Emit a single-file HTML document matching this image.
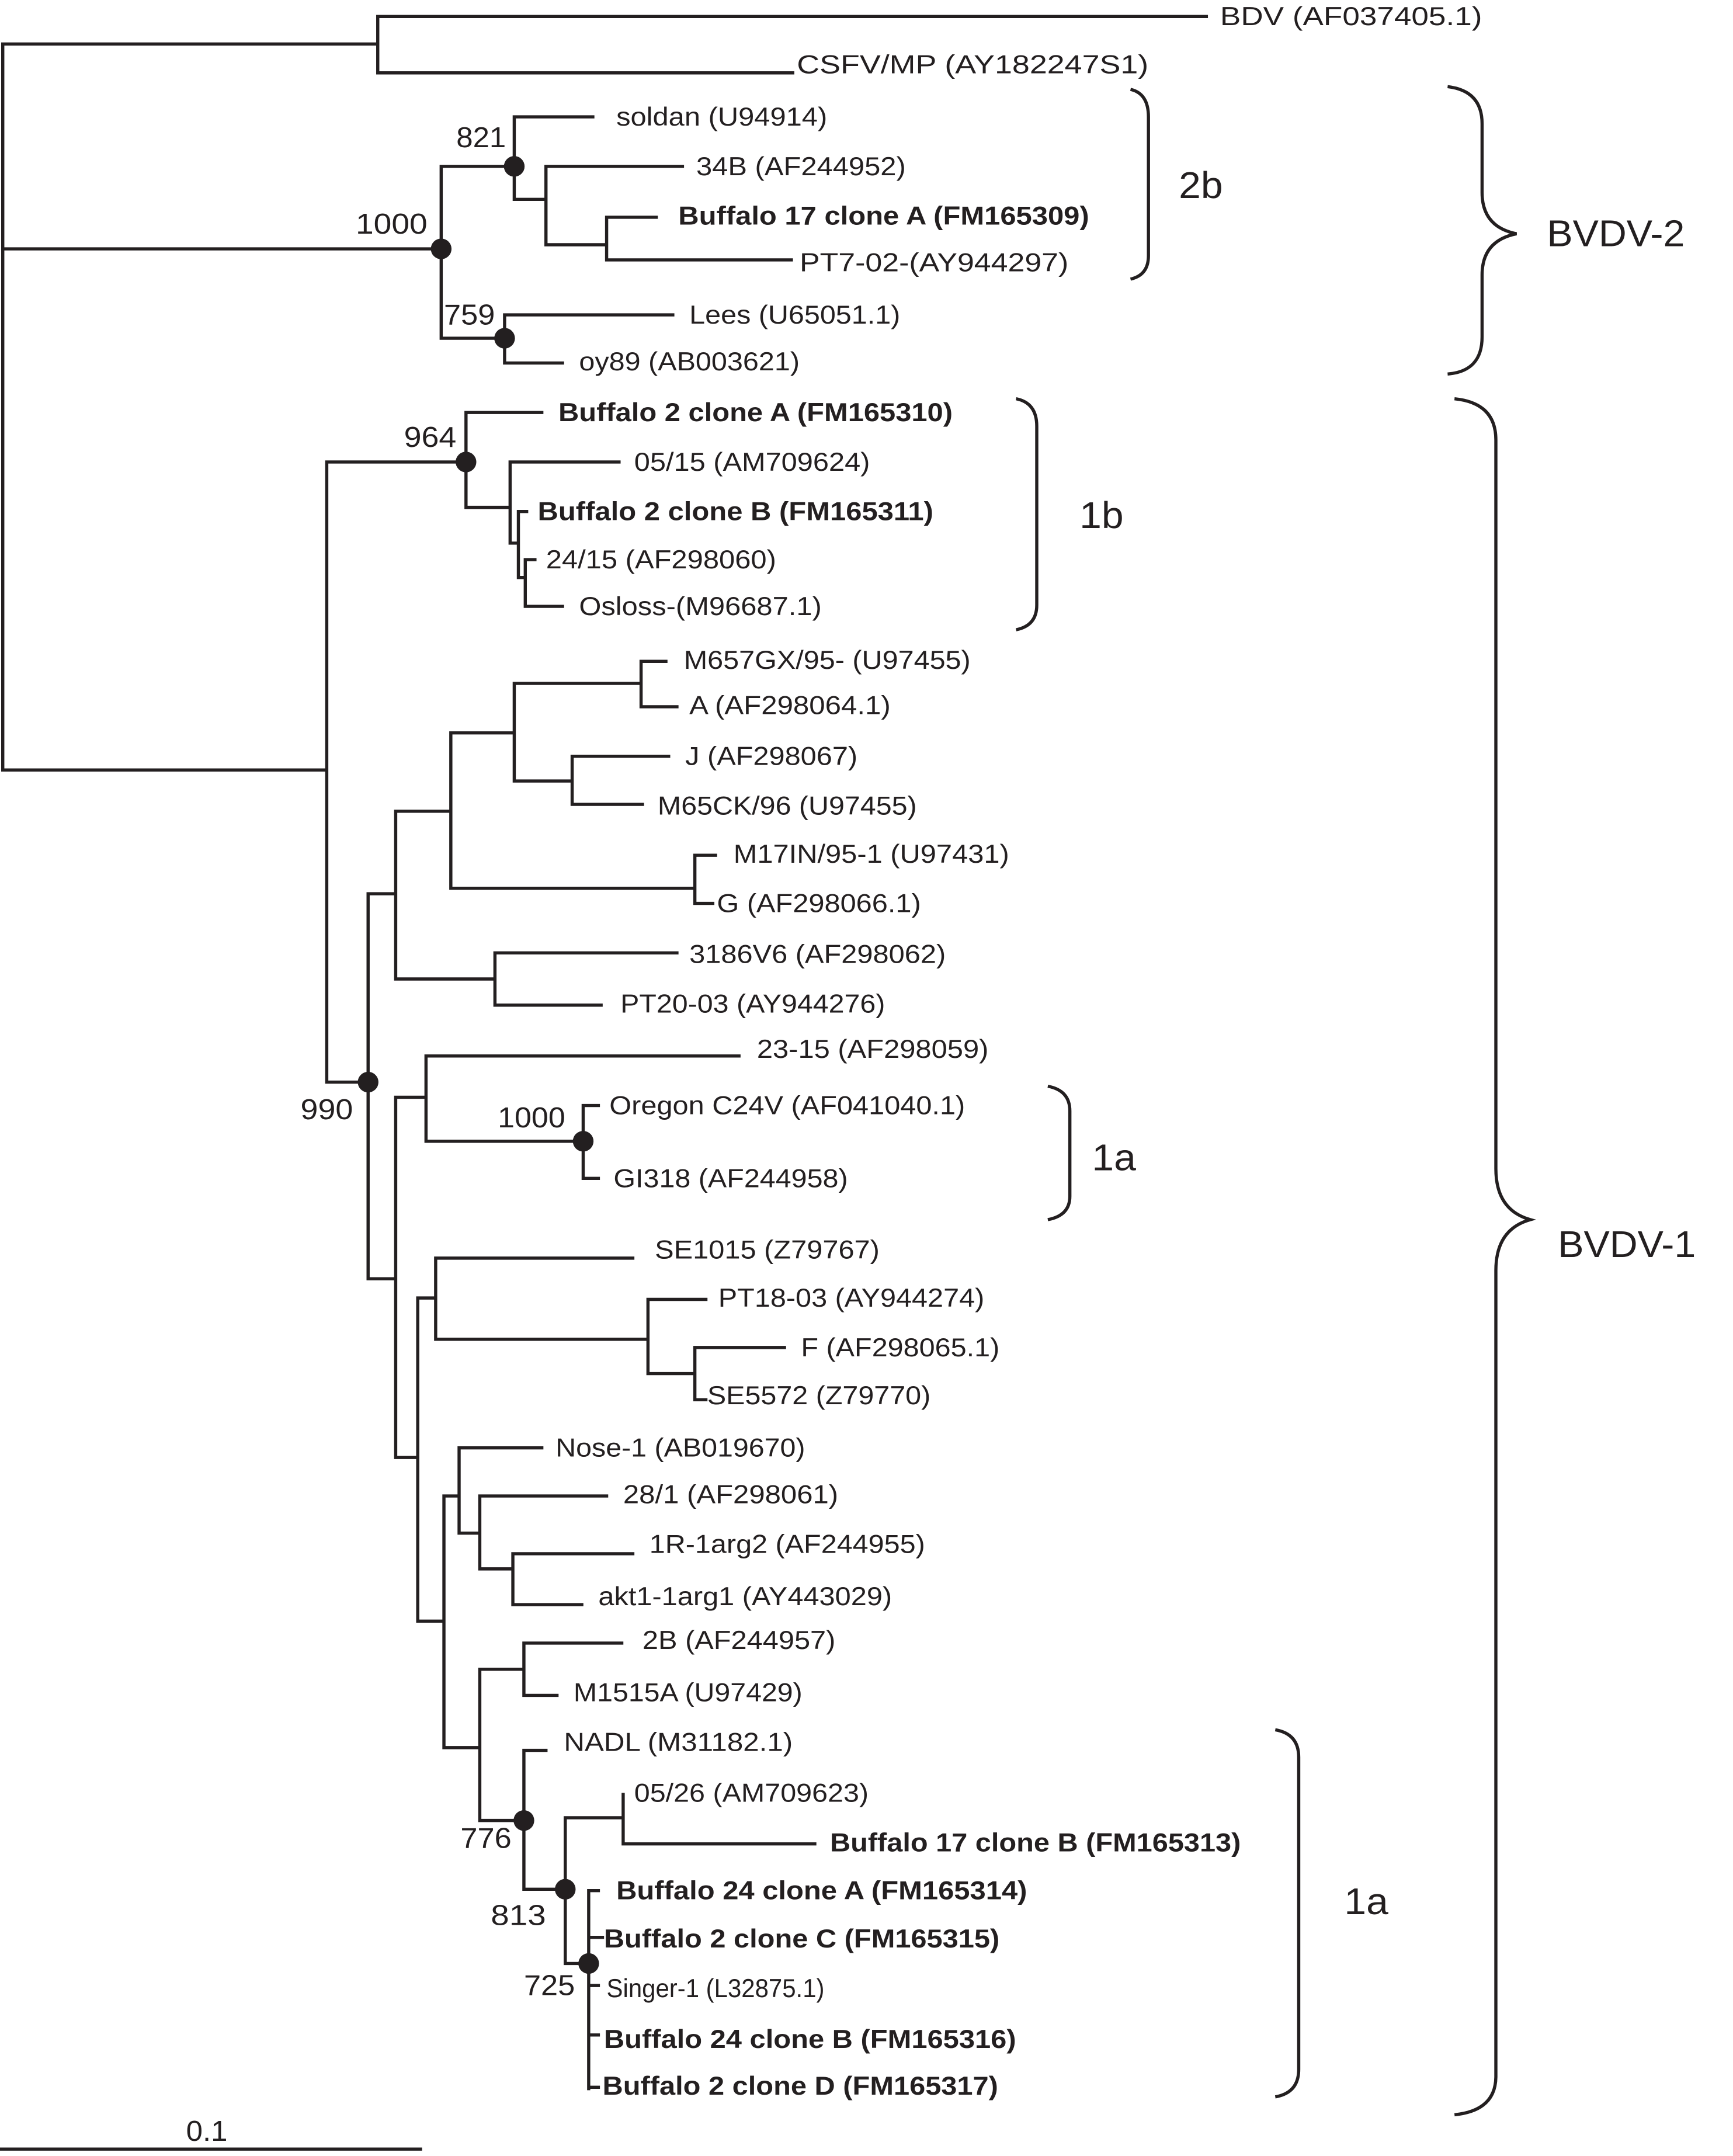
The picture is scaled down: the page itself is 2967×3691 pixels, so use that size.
<!DOCTYPE html>
<html><head><meta charset="utf-8"><style>
html,body{margin:0;padding:0;background:#fff;}
svg{display:block;}
text{font-family:"Liberation Sans",Arial,sans-serif;fill:#231f20;dominant-baseline:central;}
.l{font-size:19px;}
.b{font-size:19px;font-weight:bold;}
.n{font-size:21px;}
.g{font-size:27px;}
</style></head><body>
<svg width="2967" height="3691" viewBox="0 0 1257 1568" preserveAspectRatio="none" xmlns="http://www.w3.org/2000/svg">
<g fill="none" stroke="#231f20" stroke-width="2.3" stroke-linecap="square">
<path d="M2 32 V560 M2 32 H274 M274 12 V53 M274 12 H875 M274 53 H575
M2 181 H320 M320 121 V246 M320 121 H373 M373 85 V145 M373 85 H430 M373 145 H396 M396 121 V178 M396 121 H495 M396 178 H440 M440 158 V189 M440 158 H476 M440 189 H574 M320 246 H366 M366 229 V264 M366 229 H488 M366 264 H408
M2 560 H237 M237 336 V787 M237 336 H338 M338 300 V369 M338 300 H393 M338 369 H370 M370 336 V395 M370 336 H449 M370 395 H376 M376 372 V420 M376 372 H382 M376 420 H381 M381 407 V441 M381 407 H388 M381 441 H408
M237 787 H267 M267 650 V930 M267 650 H287 M287 590 V712 M287 590 H327 M327 533 V646 M327 533 H373 M373 497 V568 M373 497 H465 M465 481 V514 M465 481 H483 M465 514 H491 M373 568 H415 M415 550 V585 M415 550 H485 M415 585 H466 M327 646 H504 M504 622 V657 M504 622 H519 M504 657 H517 M287 712 H359 M359 693 V731 M359 693 H491 M359 731 H436
M267 930 H287 M287 798 V1060 M287 798 H309 M309 768 V830 M309 768 H536 M309 830 H423 M423 804 V857 M423 804 H434 M423 857 H434
M287 1060 H303 M303 944 V1179 M303 944 H316 M316 915 V974 M316 915 H459 M316 974 H470 M470 945 V999 M470 945 H512 M470 999 H504 M504 980 V1018 M504 980 H569 M504 1018 H512
M303 1179 H322 M322 1088 V1271 M322 1088 H333 M333 1053 V1115 M333 1053 H393 M333 1115 H348 M348 1088 V1141 M348 1088 H440 M348 1141 H372 M372 1130 V1167 M372 1130 H459 M372 1167 H422
M322 1271 H348 M348 1214 V1324 M348 1214 H380 M380 1195 V1233 M380 1195 H451 M380 1233 H404
M348 1324 H380 M380 1273 V1374 M380 1273 H396 M380 1374 H410 M410 1322 V1428 M410 1322 H452 M452 1305 V1341 M452 1341 H591 M410 1428 H427 M427 1375 V1519 M427 1375 H434 M427 1409 H437 M427 1444 H434 M427 1480 H434 M427 1518 H434
M0 1563 H305"/>
<path stroke-linecap="butt" d="M820 65 Q833 68 833 85 V186 Q833 200 820 203
M737 290 Q752 293 752 310 V440 Q752 455 737 458
M760 790 Q776 793 776 808 V870 Q776 884 760 887
M925 1258 Q942 1261 942 1278 V1505 Q942 1522 925 1525
M1050 63 Q1075 66 1075 90 V140 Q1075 165 1100 170 Q1075 175 1075 200 V245 Q1075 270 1050 272
M1055 290 Q1085 293 1085 320 V850 Q1085 880 1110 887 Q1085 894 1085 924 V1510 Q1085 1535 1055 1538"/>
</g>
<g fill="#231f20">
<circle cx="320" cy="181" r="7.5"/><circle cx="373" cy="121" r="7.5"/><circle cx="366" cy="246" r="7.5"/>
<circle cx="338" cy="336" r="7.5"/><circle cx="267" cy="787" r="7.5"/><circle cx="423" cy="830" r="7.5"/>
<circle cx="380" cy="1324" r="7.5"/><circle cx="410" cy="1374" r="7.5"/><circle cx="427" cy="1428" r="7.5"/>
</g>
<g>
<text class="l" x="885" y="12" textLength="190" lengthAdjust="spacingAndGlyphs">BDV (AF037405.1)</text>
<text class="l" x="578" y="47" textLength="255" lengthAdjust="spacingAndGlyphs">CSFV/MP (AY182247S1)</text>
<text class="l" x="447" y="85" textLength="153" lengthAdjust="spacingAndGlyphs">soldan (U94914)</text>
<text class="l" x="505" y="121" textLength="152" lengthAdjust="spacingAndGlyphs">34B (AF244952)</text>
<text class="b" x="492" y="157" textLength="298" lengthAdjust="spacingAndGlyphs">Buffalo 17 clone A (FM165309)</text>
<text class="l" x="580" y="191" textLength="195" lengthAdjust="spacingAndGlyphs">PT7-02-(AY944297)</text>
<text class="l" x="500" y="229" textLength="153" lengthAdjust="spacingAndGlyphs">Lees (U65051.1)</text>
<text class="l" x="420" y="263" textLength="160" lengthAdjust="spacingAndGlyphs">oy89 (AB003621)</text>
<text class="b" x="405" y="300" textLength="286" lengthAdjust="spacingAndGlyphs">Buffalo 2 clone A (FM165310)</text>
<text class="l" x="460" y="336" textLength="171" lengthAdjust="spacingAndGlyphs">05/15 (AM709624)</text>
<text class="b" x="390" y="372" textLength="287" lengthAdjust="spacingAndGlyphs">Buffalo 2 clone B (FM165311)</text>
<text class="l" x="396" y="407" textLength="167" lengthAdjust="spacingAndGlyphs">24/15 (AF298060)</text>
<text class="l" x="420" y="441" textLength="176" lengthAdjust="spacingAndGlyphs">Osloss-(M96687.1)</text>
<text class="l" x="496" y="480" textLength="208" lengthAdjust="spacingAndGlyphs">M657GX/95- (U97455)</text>
<text class="l" x="500" y="513" textLength="146" lengthAdjust="spacingAndGlyphs">A (AF298064.1)</text>
<text class="l" x="497" y="550" textLength="125" lengthAdjust="spacingAndGlyphs">J (AF298067)</text>
<text class="l" x="477" y="586" textLength="188" lengthAdjust="spacingAndGlyphs">M65CK/96 (U97455)</text>
<text class="l" x="532" y="621" textLength="200" lengthAdjust="spacingAndGlyphs">M17IN/95-1 (U97431)</text>
<text class="l" x="520" y="657" textLength="148" lengthAdjust="spacingAndGlyphs">G (AF298066.1)</text>
<text class="l" x="500" y="694" textLength="186" lengthAdjust="spacingAndGlyphs">3186V6 (AF298062)</text>
<text class="l" x="450" y="730" textLength="192" lengthAdjust="spacingAndGlyphs">PT20-03 (AY944276)</text>
<text class="l" x="549" y="763" textLength="168" lengthAdjust="spacingAndGlyphs">23-15 (AF298059)</text>
<text class="l" x="442" y="804" textLength="258" lengthAdjust="spacingAndGlyphs">Oregon C24V (AF041040.1)</text>
<text class="l" x="445" y="857" textLength="170" lengthAdjust="spacingAndGlyphs">GI318 (AF244958)</text>
<text class="l" x="475" y="909" textLength="163" lengthAdjust="spacingAndGlyphs">SE1015 (Z79767)</text>
<text class="l" x="521" y="944" textLength="193" lengthAdjust="spacingAndGlyphs">PT18-03 (AY944274)</text>
<text class="l" x="581" y="980" textLength="144" lengthAdjust="spacingAndGlyphs">F (AF298065.1)</text>
<text class="l" x="513" y="1015" textLength="162" lengthAdjust="spacingAndGlyphs">SE5572 (Z79770)</text>
<text class="l" x="403" y="1053" textLength="181" lengthAdjust="spacingAndGlyphs">Nose-1 (AB019670)</text>
<text class="l" x="452" y="1087" textLength="156" lengthAdjust="spacingAndGlyphs">28/1 (AF298061)</text>
<text class="l" x="471" y="1123" textLength="200" lengthAdjust="spacingAndGlyphs">1R-1arg2 (AF244955)</text>
<text class="l" x="434" y="1161" textLength="213" lengthAdjust="spacingAndGlyphs">akt1-1arg1 (AY443029)</text>
<text class="l" x="466" y="1193" textLength="140" lengthAdjust="spacingAndGlyphs">2B (AF244957)</text>
<text class="l" x="416" y="1231" textLength="166" lengthAdjust="spacingAndGlyphs">M1515A (U97429)</text>
<text class="l" x="409" y="1267" textLength="166" lengthAdjust="spacingAndGlyphs">NADL (M31182.1)</text>
<text class="l" x="460" y="1304" textLength="170" lengthAdjust="spacingAndGlyphs">05/26 (AM709623)</text>
<text class="b" x="602" y="1340" textLength="298" lengthAdjust="spacingAndGlyphs">Buffalo 17 clone B (FM165313)</text>
<text class="b" x="447" y="1375" textLength="298" lengthAdjust="spacingAndGlyphs">Buffalo 24 clone A (FM165314)</text>
<text class="b" x="438" y="1410" textLength="287" lengthAdjust="spacingAndGlyphs">Buffalo 2 clone C (FM165315)</text>
<text class="l" x="440" y="1446" textLength="158" lengthAdjust="spacingAndGlyphs">Singer-1 (L32875.1)</text>
<text class="b" x="438" y="1483" textLength="299" lengthAdjust="spacingAndGlyphs">Buffalo 24 clone B (FM165316)</text>
<text class="b" x="437" y="1517" textLength="287" lengthAdjust="spacingAndGlyphs">Buffalo 2 clone D (FM165317)</text>

<text class="n" x="258" y="163" textLength="52" lengthAdjust="spacingAndGlyphs">1000</text>
<text class="n" x="331" y="100" textLength="36" lengthAdjust="spacingAndGlyphs">821</text>
<text class="n" x="322" y="229" textLength="37" lengthAdjust="spacingAndGlyphs">759</text>
<text class="n" x="293" y="318" textLength="38" lengthAdjust="spacingAndGlyphs">964</text>
<text class="n" x="218" y="807" textLength="38" lengthAdjust="spacingAndGlyphs">990</text>
<text class="n" x="361" y="813" textLength="49" lengthAdjust="spacingAndGlyphs">1000</text>
<text class="n" x="334" y="1337" textLength="37" lengthAdjust="spacingAndGlyphs">776</text>
<text class="n" x="356" y="1393" textLength="40" lengthAdjust="spacingAndGlyphs">813</text>
<text class="n" x="380" y="1444" textLength="37" lengthAdjust="spacingAndGlyphs">725</text>
<text class="n" x="135" y="1550" textLength="30" lengthAdjust="spacingAndGlyphs">0.1</text>

<text class="g" x="855" y="135" textLength="32" lengthAdjust="spacingAndGlyphs">2b</text>
<text class="g" x="1122" y="170" textLength="100" lengthAdjust="spacingAndGlyphs">BVDV-2</text>
<text class="g" x="783" y="375" textLength="32" lengthAdjust="spacingAndGlyphs">1b</text>
<text class="g" x="792" y="842" textLength="32" lengthAdjust="spacingAndGlyphs">1a</text>
<text class="g" x="975" y="1383" textLength="32" lengthAdjust="spacingAndGlyphs">1a</text>
<text class="g" x="1130" y="905" textLength="100" lengthAdjust="spacingAndGlyphs">BVDV-1</text>
</g>
</svg>
</body></html>
